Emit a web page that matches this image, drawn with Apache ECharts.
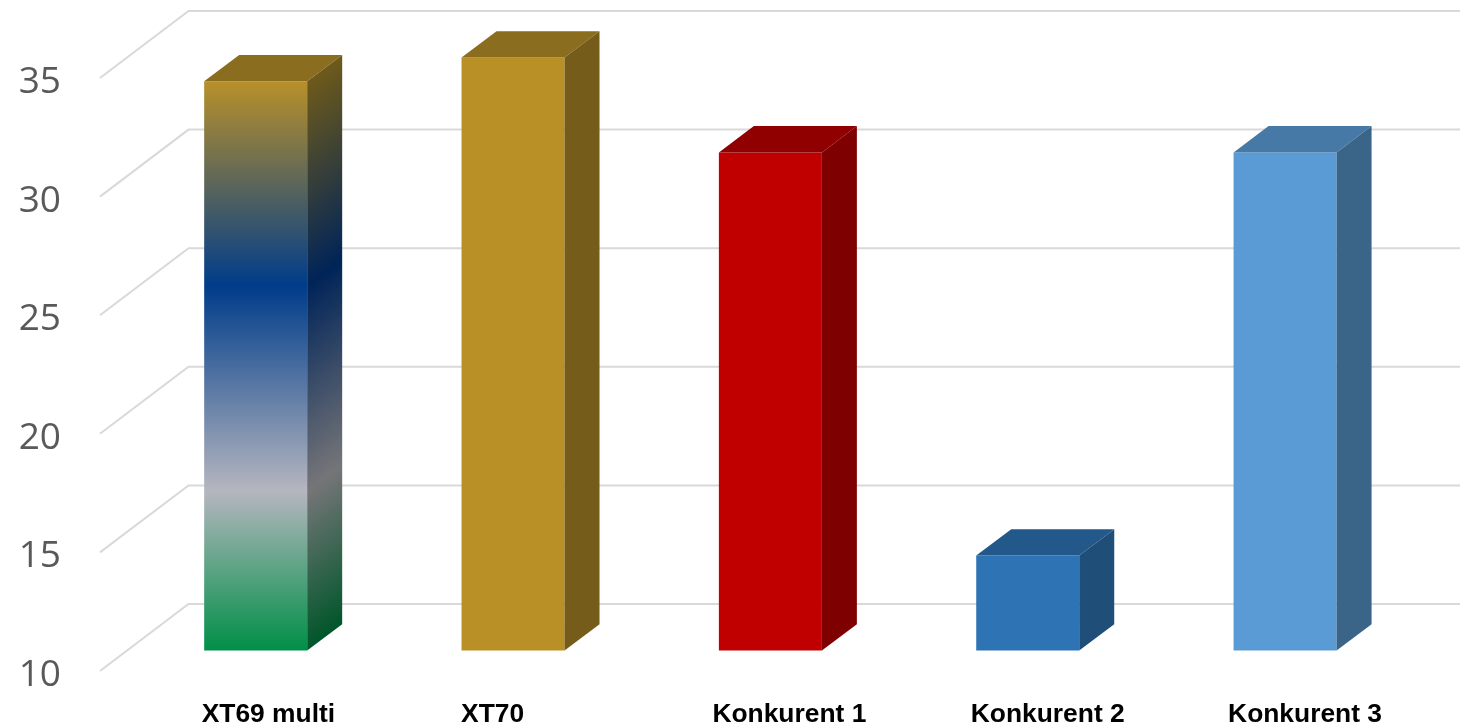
<!DOCTYPE html>
<html>
<head>
<meta charset="utf-8">
<title>Chart</title>
<style>
  html, body { margin: 0; background: #fff; }
  #chart { width: 1460px; height: 728px; }
</style>
<script src="https://cdn.jsdelivr.net/npm/echarts@6/dist/echarts.min.js"></script>
</head>
<body>
<div id="chart"></div>
<script>
const categories = ['XT69 multi', 'XT70', 'Konkurent 1', 'Konkurent 2', 'Konkurent 3']
const values = [34, 35, 31, 14, 31]
const tickValues = [10, 15, 20, 25, 30, 35]

// front, top, side colours per bar (first bar has gradients)
const frontColors = [null, '#B89026', '#C00000', '#2E74B5', '#5B9BD5']
const topColors = ['#8A6D1E', '#8A6D1F', '#900000', '#22598A', '#4679A6']
const sideColors = [null, '#765C1A', '#7F0000', '#1F4E79', '#3A6589']

// label left edge relative to the category centre
const labelShift = [-27, -25, -31, -30, -30]

// 3d geometry in pixels
const wallDx = 88.5
const wallDy = -67
const barDx = 27
const barDy = -20.5
const barW = 103
const depthX = 35
const depthY = -26.3

const stopOffsets = [0, 0.36, 0.72, 1]
const frontStops = ['#B8902A', '#003C8A', '#B5B6BF', '#008F47']
const sideStops = ['#6E5A1A', '#002458', '#757578', '#00562A']

const makeStops = (cols) => cols.map((color, i) => ({ offset: stopOffsets[i], color }))

const chart = echarts.init(document.getElementById('chart'))

const renderWall = (params, api) => {
  const p = api.coord([0, api.value(1)])
  const x = params.coordSys.x
  return {
    type: 'polyline',
    shape: { points: [[x, p[1]], [x + wallDx, p[1] + wallDy], [api.getWidth(), p[1] + wallDy]] },
    style: { stroke: '#D9D9D9', lineWidth: 2, fill: 'none' }
  }
}

const renderBar = (params, api) => {
  const i = params.dataIndex
  const top = api.coord([api.value(0), api.value(1)])
  const base = api.coord([api.value(0), tickValues[0]])
  const l = top[0] + barDx - barW / 2
  const r = l + barW
  const t = top[1] + barDy
  const b = base[1] + barDy

  let front = frontColors[i]
  let side = sideColors[i]
  if (i === 0) {
    front = { type: 'linear', x: 0, y: t, x2: 0, y2: b, global: true, colorStops: makeStops(frontStops) }
    // iso-lines of the side gradient run along the depth direction
    const len = (b - t) * 0.8
    side = { type: 'linear', x: r, y: t, x2: r + len * 0.6, y2: t + len * 0.8, global: true, colorStops: makeStops(sideStops) }
  }

  return {
    type: 'group',
    children: [
      {
        type: 'polygon',
        shape: { points: [[l, t], [r, t], [r, b], [l, b]] },
        style: { fill: front }
      },
      {
        type: 'polygon',
        shape: { points: [[l, t], [l + depthX, t + depthY], [r + depthX, t + depthY], [r, t]] },
        style: { fill: topColors[i] }
      },
      {
        type: 'polygon',
        shape: { points: [[r, t], [r + depthX, t + depthY], [r + depthX, b + depthY], [r, b]] },
        style: { fill: side }
      }
    ]
  }
}

const option = {
  animation: false,
  backgroundColor: '#fff',
  grid: { left: 100, top: 78, right: 73.25, bottom: 57 },
  xAxis: {
    type: 'category',
    data: categories.map((value, i) => ({ value, textStyle: { align: 'left', padding: [0, 0, 0, labelShift[i]] } })),
    axisLine: { show: false },
    axisTick: { show: false },
    axisLabel: {
      interval: 0,
      align: 'left',
      margin: 31,
      color: '#000',
      fontFamily: 'Liberation Sans',
      fontWeight: 'bold',
      fontSize: 26.4
    }
  },
  yAxis: {
    type: 'value',
    min: 10,
    max: 35,
    interval: 5,
    axisLine: { show: false },
    axisTick: { show: false },
    splitLine: { show: false },
    axisLabel: {
      margin: 39,
      verticalAlign: 'top',
      lineHeight: 9,
      color: '#595959',
      fontFamily: 'Open Sans',
      fontSize: 37
    }
  },
  series: [
    {
      type: 'custom',
      name: 'walls',
      silent: true,
      z: 1,
      renderItem: renderWall,
      encode: { x: 0, y: 1 },
      data: tickValues.map((v) => [0, v])
    },
    {
      type: 'custom',
      name: 'bars',
      z: 2,
      renderItem: renderBar,
      encode: { x: 0, y: 1 },
      data: values.map((v, i) => [i, v])
    }
  ]
}

chart.setOption(option)
</script>
</body>
</html>
